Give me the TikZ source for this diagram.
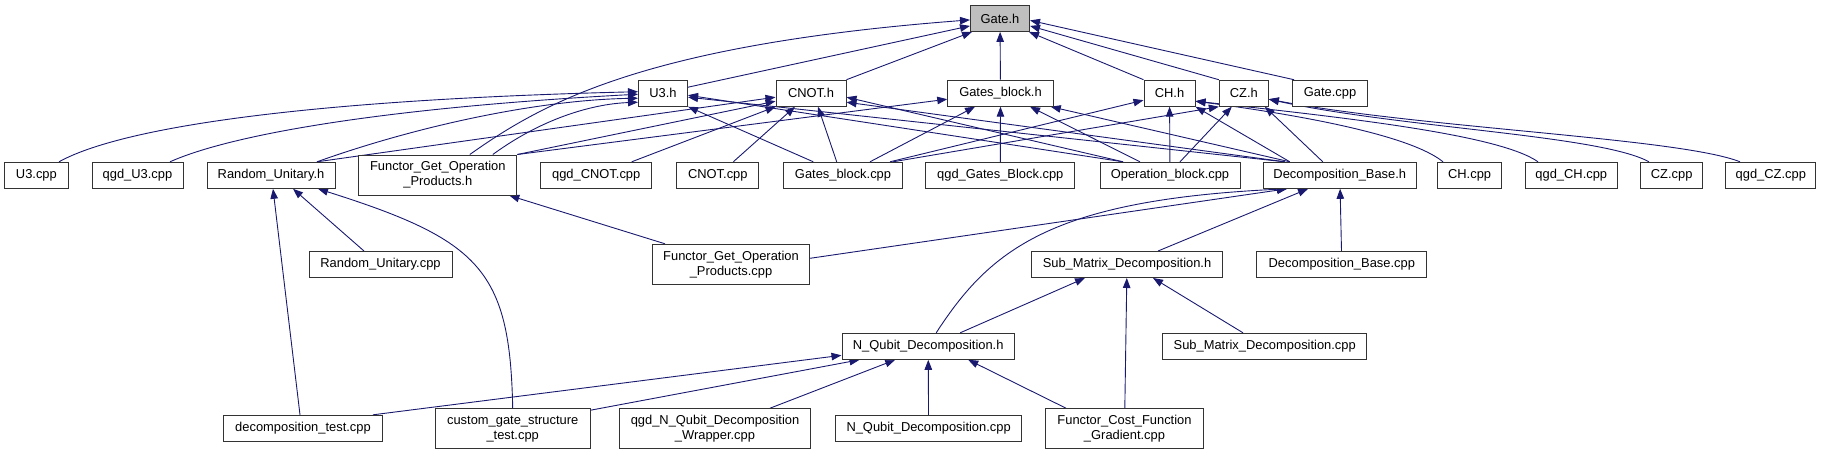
\documentclass[tikz,border=0pt]{standalone}
\usepackage{fontspec}
\setmainfont{Liberation Sans}
\usepackage{xcolor}
\usepackage{tikz}
\usetikzlibrary{arrows.meta,backgrounds}
\definecolor{edgeblue}{RGB}{25,25,112}
\definecolor{rootgray}{HTML}{BFBFBF}
\definecolor{boxline}{HTML}{333333}
\tikzset{
  filebox/.style={
    draw=boxline,
    fill=white,
    line width=1pt,
    inner sep=0pt,
    align=center,
    minimum height=26pt,
    font=\fontsize{12.9}{15}\selectfont
  },
  filebox2/.style={
    filebox,
    minimum height=40pt
  },
  rootbox/.style={
    filebox,
    fill=rootgray
  },
  incarrow/.style={
    -{Triangle[length=10pt,width=7.5pt]},
    line width=0.9pt,
    draw=edgeblue
  }
}

\begin{document}
\begin{tikzpicture}[x=1pt,y=-1pt]
    \useasboundingbox (0,0) rectangle (1835,455);

    \node[rootbox, minimum width=59pt] (gateh) at (1000,18.4) {Gate.h};

    \node[filebox, minimum width=49pt] (u3h) at (663,93.2) {U3.h};
    \node[filebox, minimum width=70pt] (cnoth) at (811,93.2) {CNOT.h};
    \node[filebox, minimum width=105.5pt] (gbh) at (1000.5,93.2) {Gates\_block.h};
    \node[filebox, minimum width=51pt] (chh) at (1169.5,93.2) {CH.h};
    \node[filebox, minimum width=49pt] (czh) at (1243.8,93.2) {CZ.h};
    \node[filebox, minimum width=75pt] (gatecpp) at (1330,93.2) {Gate.cpp};

    \node[filebox, minimum width=63.5pt] (u3cpp) at (36.4,175.3) {U3.cpp};
    \node[filebox, minimum width=91pt] (qgdu3) at (137.5,175.3) {qgd\_U3.cpp};
    \node[filebox, minimum width=128pt] (ruh) at (271,175.3) {Random\_Unitary.h};
    \node[filebox2, minimum width=158pt] (fgoph) at (437.8,175) {Functor\_Get\_Operation\\\_Products.h};
    \node[filebox, minimum width=110.5pt] (qgdcnot) at (596.2,175.3) {qgd\_CNOT.cpp};
    \node[filebox, minimum width=82.3pt] (cnotcpp) at (717.8,175.3) {CNOT.cpp};
    \node[filebox, minimum width=119pt] (gbcpp) at (843,175.3) {Gates\_block.cpp};
    \node[filebox, minimum width=149.3pt] (qgdgb) at (1000.3,175.3) {qgd\_Gates\_Block.cpp};
    \node[filebox, minimum width=140pt] (opbcpp) at (1170,175.3) {Operation\_block.cpp};
    \node[filebox, minimum width=152.5pt] (dbh) at (1339.8,175.3) {Decomposition\_Base.h};
    \node[filebox, minimum width=64pt] (chcpp) at (1469.6,175.3) {CH.cpp};
    \node[filebox, minimum width=91.8pt] (qgdch) at (1571.3,175.3) {qgd\_CH.cpp};
    \node[filebox, minimum width=61.7pt] (czcpp) at (1671.7,175.3) {CZ.cpp};
    \node[filebox, minimum width=89.8pt] (qgdcz) at (1770.8,175.3) {qgd\_CZ.cpp};

    \node[filebox, minimum width=143pt] (rucpp) at (380.5,264.5) {Random\_Unitary.cpp};
    \node[filebox2, minimum width=157pt] (fgopcpp) at (731,264.3) {Functor\_Get\_Operation\\\_Products.cpp};
    \node[filebox, minimum width=190.7pt] (smdh) at (1127,264.5) {Sub\_Matrix\_Decomposition.h};
    \node[filebox, minimum width=169.7pt] (dbcpp) at (1341.8,264.5) {Decomposition\_Base.cpp};

    \node[filebox, minimum width=172.4pt] (nqdh) at (928.2,346.3) {N\_Qubit\_Decomposition.h};
    \node[filebox, minimum width=204pt] (smdcpp) at (1264.7,346.3) {Sub\_Matrix\_Decomposition.cpp};

    \node[filebox, minimum width=159.3pt] (dtest) at (303,428.3) {decomposition\_test.cpp};
    \node[filebox2, minimum width=154.7pt] (cgst) at (512.7,428.7) {custom\_gate\_structure\\\_test.cpp};
    \node[filebox2, minimum width=190.6pt] (wrapper) at (715,428.7) {qgd\_N\_Qubit\_Decomposition\\\_Wrapper.cpp};
    \node[filebox, minimum width=186.6pt] (nqdcpp) at (928.6,428.3) {N\_Qubit\_Decomposition.cpp};
    \node[filebox2, minimum width=157.8pt] (fcfg) at (1124.5,428.7) {Functor\_Cost\_Function\\\_Gradient.cpp};

    \begin{scope}[on background layer]
        \draw[incarrow] ([xshift=32pt]fgoph.north) .. controls (540,105) and (640,45) .. ([yshift=-1.5pt]gateh.west);
        \draw[incarrow] ([yshift=6pt]u3h.east) -- ([yshift=-7.5pt]gateh.west);
        \draw[incarrow] (cnoth.north east) -- ([xshift=2pt]gateh.south west);
        \draw[incarrow] (gbh) -- (gateh);
        \draw[incarrow] (chh.north west) -- ([xshift=-1pt]gateh.south east);
        \draw[incarrow] (czh.north west) -- ([yshift=-7.5pt]gateh.east);
        \draw[incarrow] ([xshift=2pt]gatecpp.north west) -- ([yshift=-2pt]gateh.east);

        \draw[incarrow] ([xshift=22.6pt]u3cpp.north) .. controls (120,128) and (300,100) .. ([yshift=1.5pt]u3h.west);
        \draw[incarrow] ([xshift=32.5pt]qgdu3.north) .. controls (230,135) and (380,108) .. ([yshift=-1pt]u3h.west);
        \draw[incarrow] ([xshift=46pt]ruh.north) .. controls (420,125) and (540,100) .. ([yshift=-5pt]u3h.west);
        \draw[incarrow] ([xshift=55pt]fgoph.north) .. controls (540,120) and (590,104) .. ([yshift=-9pt]u3h.west);
        \draw[incarrow] ([xshift=-29.7pt]gbcpp.north) -- (u3h.south east);
        \draw[incarrow] ([xshift=-47pt]opbcpp.north) -- ([yshift=-2pt]u3h.east);
        \draw[incarrow] ([xshift=-55pt]dbh.north) -- ([yshift=-4pt]u3h.east);

        \draw[incarrow] ([xshift=46pt]ruh.north) -- ([yshift=-4pt]cnoth.west);
        \draw[incarrow] (fgoph.north east) -- ([yshift=-8pt]cnoth.west);
        \draw[incarrow] ([xshift=35.5pt]qgdcnot.north) -- (cnoth.south west);
        \draw[incarrow] ([xshift=15.5pt]cnotcpp.north) -- ([xshift=-16pt]cnoth.south);
        \draw[incarrow] ([xshift=-6.3pt]gbcpp.north) -- ([xshift=7pt]cnoth.south);
        \draw[incarrow] ([xshift=-47pt]opbcpp.north) -- ([yshift=-4pt]cnoth.east);
        \draw[incarrow] ([xshift=-55pt]dbh.north) -- ([yshift=-9pt]cnoth.east);

        \draw[incarrow] (fgoph.north east) -- ([yshift=-6pt]gbh.west);
        \draw[incarrow] ([xshift=27pt]gbcpp.north) -- ([xshift=-25.5pt]gbh.south);
        \draw[incarrow] (qgdgb) -- (gbh);
        \draw[incarrow] ([xshift=-30pt]opbcpp.north) -- ([xshift=29.5pt]gbh.south);
        \draw[incarrow] ([xshift=-50pt]dbh.north) -- ([xshift=-3pt]gbh.south east);

        \draw[incarrow] ([xshift=47pt]gbcpp.north) -- ([yshift=-7pt]chh.west);
        \draw[incarrow] (opbcpp) -- (chh);
        \draw[incarrow] ([xshift=-50pt]dbh.north) -- (chh.south east);
        \draw[incarrow] ([xshift=-26.6pt]chcpp.north) .. controls (1410,135) and (1300,115) .. ([yshift=-8pt]chh.east);
        \draw[incarrow] ([xshift=-33.3pt]qgdch.north) .. controls (1500,135) and (1350,118) .. ([yshift=-8pt]chh.east);

        \draw[incarrow] ([xshift=50pt]gbcpp.north) -- (czh.south west);
        \draw[incarrow] ([xshift=10pt]opbcpp.north) -- ([xshift=-12pt]czh.south);
        \draw[incarrow] ([xshift=-17pt]dbh.north) -- ([xshift=-4pt]czh.south east);
        \draw[incarrow] ([xshift=-22.7pt]czcpp.north) .. controls (1600,135) and (1400,128) .. ([yshift=-6pt]czh.east);
        \draw[incarrow] ([xshift=-30.8pt]qgdcz.north) .. controls (1680,138) and (1420,128) .. ([yshift=-6pt]czh.east);

        \draw[incarrow] ([xshift=-16.5pt]rucpp.north) -- ([xshift=22pt]ruh.south);
        \draw[incarrow] ([xshift=-3pt]dtest.north) -- ([xshift=2pt]ruh.south);
        \draw[incarrow] (cgst.north) .. controls (510,270) and (480,240) .. ([xshift=47pt]ruh.south);

        \draw[incarrow] ([xshift=-66pt]fgopcpp.north) -- ([xshift=-8pt]fgoph.south east);
        \draw[incarrow] ([yshift=6pt]fgopcpp.east) -- ([xshift=24pt]dbh.south west);
        \draw[incarrow] ([xshift=8pt]nqdh.north) .. controls (990,250) and (1050,200) .. ([xshift=24pt]dbh.south west);
        \draw[incarrow] ([xshift=31pt]smdh.north) -- ([xshift=45pt]dbh.south west);
        \draw[incarrow] (dbcpp) -- (dbh);

        \draw[incarrow] ([xshift=32pt]nqdh.north) -- ([xshift=-42pt]smdh.south);
        \draw[incarrow] (fcfg) -- (smdh);
        \draw[incarrow] ([xshift=-21.7pt]smdcpp.north) -- ([xshift=26pt]smdh.south);

        \draw[incarrow] ([xshift=70pt]dtest.north) -- ([yshift=-9pt]nqdh.west);
        \draw[incarrow] ([yshift=-2pt]cgst.north east) -- ([xshift=18pt]nqdh.south west);
        \draw[incarrow] ([xshift=55pt]wrapper.north) -- ([xshift=-33pt]nqdh.south);
        \draw[incarrow] (nqdcpp) -- (nqdh);
        \draw[incarrow] ([xshift=-58.5pt]fcfg.north) -- ([xshift=40pt]nqdh.south);
    \end{scope}
\end{tikzpicture}
\end{document}
